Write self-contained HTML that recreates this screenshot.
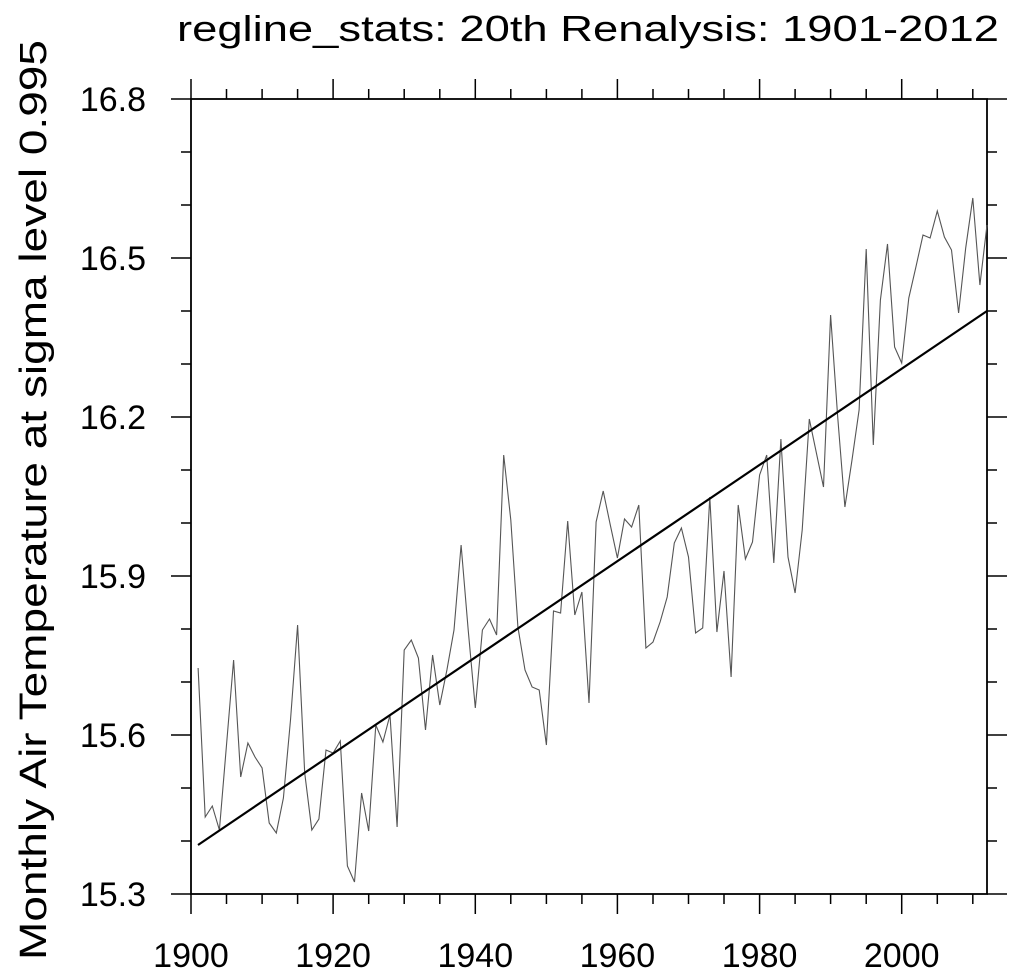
<!DOCTYPE html>
<html><head><style>html,body{margin:0;padding:0;background:#fff;}svg{display:block;}</style></head>
<body>
<svg width="1016" height="976" viewBox="0 0 1016 976" xmlns="http://www.w3.org/2000/svg" font-family="Liberation Sans, sans-serif">
<rect width="1016" height="976" fill="#fff"/>
<text x="588" y="41" font-size="36" text-anchor="middle" textLength="822" lengthAdjust="spacingAndGlyphs">regline_stats: 20th Renalysis: 1901-2012</text>
<text transform="translate(46,500) rotate(-90)" font-size="38" text-anchor="middle" textLength="920" lengthAdjust="spacingAndGlyphs">Monthly Air Temperature at sigma level 0.995</text>
<rect x="191" y="99" width="796" height="795" fill="none" stroke="#000" stroke-width="1.8"/>
<path stroke="#000" stroke-width="1.5" fill="none" d="
M191 894v20M226.5 894v10M262.1 894v10M297.6 894v10M333.1 894v20M368.7 894v10M404.2 894v10M439.8 894v10M475.3 894v20M510.8 894v10M546.4 894v10M581.9 894v10M617.4 894v20M653 894v10M688.5 894v10M724 894v10M759.6 894v20M795.1 894v10M830.6 894v10M866.2 894v10M901.7 894v20M937.3 894v10M972.8 894v10
M191 99v-20M226.5 99v-10M262.1 99v-10M297.6 99v-10M333.1 99v-20M368.7 99v-10M404.2 99v-10M439.8 99v-10M475.3 99v-20M510.8 99v-10M546.4 99v-10M581.9 99v-10M617.4 99v-20M653 99v-10M688.5 99v-10M724 99v-10M759.6 99v-20M795.1 99v-10M830.6 99v-10M866.2 99v-10M901.7 99v-20M937.3 99v-10M972.8 99v-10
M191 894h-20M191 841h-10M191 788h-10M191 735h-20M191 682h-10M191 629h-10M191 576h-20M191 523h-10M191 470h-10M191 417h-20M191 364h-10M191 311h-10M191 258h-20M191 205h-10M191 152h-10M191 99h-20
M987 894h20M987 841h10M987 788h10M987 735h20M987 682h10M987 629h10M987 576h20M987 523h10M987 470h10M987 417h20M987 364h10M987 311h10M987 258h20M987 205h10M987 152h10M987 99h20"/>
<g font-size="34" text-anchor="middle">
<text x="191" y="967">1900</text><text x="333.1" y="967">1920</text><text x="475.3" y="967">1940</text><text x="617.4" y="967">1960</text><text x="759.6" y="967">1980</text><text x="901.7" y="967">2000</text>
</g>
<g font-size="34" text-anchor="end">
<text x="146" y="906">15.3</text><text x="146" y="747">15.6</text><text x="146" y="588">15.9</text><text x="146" y="429">16.2</text><text x="146" y="270">16.5</text><text x="146" y="111">16.8</text>
</g>
<polyline fill="none" stroke="#555" stroke-width="1.1" points="198.1,668 205.2,817 212.3,806 219.4,830 226.5,745 233.6,660 240.7,777 247.9,743 255,757 262.1,768 269.2,823 276.3,833 283.4,798 290.5,720 297.6,625 304.7,773 311.8,830 318.9,819 326,750 333.1,753 340.3,741 347.4,866 354.5,882 361.6,793 368.7,831 375.8,725 382.9,742 390,715 397.1,827 404.2,650 411.3,640 418.4,658 425.5,730 432.6,655 439.8,705 446.9,670 454,630 461.1,545 468.2,630 475.3,708 482.4,630 489.5,619 496.6,635 503.7,455 510.8,520 517.9,627 525,670 532.1,687 539.2,690 546.4,745 553.5,611 560.6,613 567.7,521 574.8,615 581.9,592 589,703 596.1,522 603.2,491 610.3,525 617.4,558 624.5,519 631.6,527 638.8,505 645.9,648 653,642 660.1,622 667.2,597 674.3,543 681.4,528 688.5,557 695.6,633 702.7,628 709.8,497 716.9,632 724,571 731.1,677 738.2,505 745.4,559 752.5,542 759.6,475 766.7,455 773.8,563 780.9,439 788,557 795.1,593 802.2,530 809.3,419 816.4,453 823.5,487 830.6,315 837.7,417 844.9,507 852,460 859.1,410 866.2,249 873.3,445 880.4,300 887.5,244 894.6,347 901.7,363 908.8,298 915.9,267 923,235 930.1,238 937.3,211 944.4,237 951.5,250 958.6,313 965.7,248 972.8,198 979.9,285 987,225"/>
<line x1="198" y1="845" x2="987" y2="311" stroke="#000" stroke-width="2.2"/>
</svg>
</body></html>
